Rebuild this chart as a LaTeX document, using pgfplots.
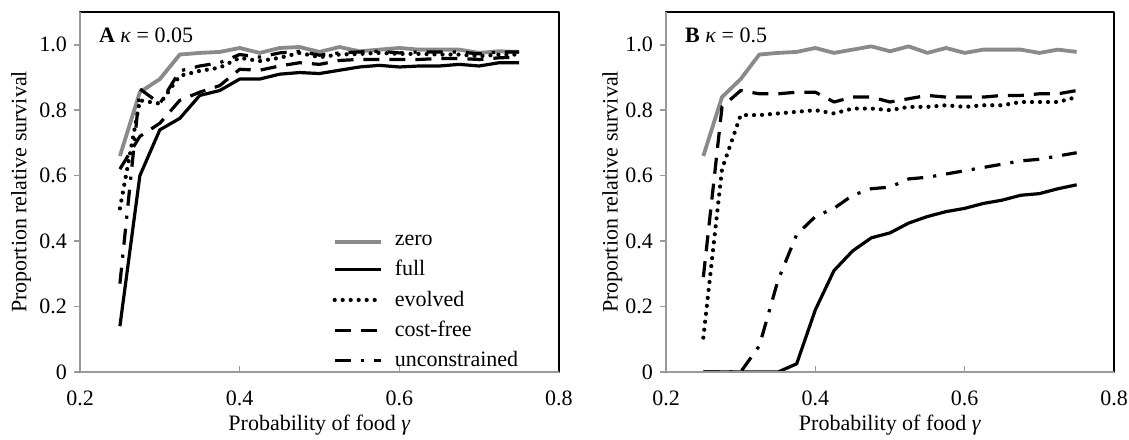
\documentclass[border=0pt]{standalone}
\usepackage{fontspec}
\setmainfont{Liberation Serif}
\usepackage{pgfplots}
\usepackage{pgfplotstable}
\pgfplotsset{compat=1.18}
\definecolor{zgray}{HTML}{8A8A8A}
\definecolor{agray}{HTML}{9A9A9A}

\pgfplotstableread{
x      zero   full   evolved costfree uncon
0.25   0.66   0.14   0.50   0.62   0.27
0.275  0.855  0.60   0.83   0.72   0.865
0.3    0.895  0.74   0.82   0.76   0.82
0.325  0.97   0.775  0.905  0.83   0.92
0.35   0.975  0.845  0.92   0.855  0.935
0.375  0.978  0.86   0.93   0.875  0.945
0.4    0.99   0.895  0.96   0.925  0.97
0.425  0.975  0.895  0.95   0.922  0.962
0.45   0.99   0.91   0.96   0.935  0.975
0.475  0.993  0.915  0.975  0.945  0.98
0.5    0.978  0.912  0.962  0.94   0.968
0.525  0.993  0.922  0.97   0.952  0.975
0.55   0.98   0.932  0.972  0.955  0.978
0.575  0.985  0.937  0.975  0.955  0.98
0.6    0.99   0.932  0.972  0.955  0.975
0.625  0.985  0.935  0.972  0.955  0.978
0.65   0.985  0.935  0.97   0.958  0.978
0.675  0.985  0.94   0.97   0.958  0.978
0.7    0.975  0.935  0.965  0.955  0.972
0.725  0.98   0.945  0.97   0.96   0.978
0.75   0.978  0.945  0.97   0.962  0.978
}\tableA

\pgfplotstableread{
x      zero   full   evolved costfree uncon
0.25   0.66   0      0.105  0.29   0
0.275  0.84   0      0.62   0.81   0
0.3    0.895  0      0.785  0.86   0
0.325  0.97   0      0.785  0.85   0.08
0.35   0.975  0      0.79   0.85   0.28
0.375  0.978  0.025  0.795  0.855  0.42
0.4    0.99   0.19   0.80   0.855  0.475
0.425  0.975  0.31   0.79   0.825  0.50
0.45   0.985  0.37   0.805  0.84   0.54
0.475  0.995  0.41   0.805  0.84   0.56
0.5    0.98   0.425  0.80   0.825  0.565
0.525  0.995  0.455  0.81   0.835  0.59
0.55   0.975  0.475  0.81   0.845  0.595
0.575  0.99   0.49   0.815  0.84   0.605
0.6    0.975  0.50   0.81   0.84   0.615
0.625  0.985  0.515  0.815  0.84   0.625
0.65   0.985  0.525  0.815  0.845  0.635
0.675  0.985  0.54   0.825  0.845  0.645
0.7    0.975  0.545  0.825  0.85   0.65
0.725  0.985  0.56   0.825  0.85   0.66
0.75   0.978  0.572  0.84   0.86   0.67
}\tableB

\pgfplotsset{
  myaxis/.style={
    scale only axis, height=180pt,
    xmin=0.2, xmax=0.8, ymin=0, ymax=1.1,
    xtick={0.2,0.4,0.6,0.8}, xticklabels={0.2,0.4,0.6,0.8},
    ytick={0,0.2,0.4,0.6,0.8,1.0}, yticklabels={0,0.2,0.4,0.6,0.8,1.0},
    xtick pos=bottom, ytick pos=left,
    xtick align=inside, ytick align=outside,
    major tick length=3pt,
    tick style={agray, line width=0.8pt},
    axis line style={black, line width=0.9pt},
    font=\fontsize{11}{13}\selectfont,
    ticklabel style={font=\fontsize{11}{13}\selectfont},
    xticklabel style={yshift=-6pt},
    /pgf/number format/assume math mode=true,
    xlabel={Probability of food \textit{γ}},
    ylabel={Proportion relative survival},
    every axis x label/.style={at={(axis description cs:0.5,-0.147)}, anchor=center},
    after end axis/.code={\draw[agray, line width=1.1pt] (rel axis cs:0,1) -- (rel axis cs:0,0) -- (rel axis cs:1,0);},
    line join=round,
  },
  zero/.style={zgray, line width=1.9pt},
  full/.style={black, line width=1.6pt},
  evolved/.style={black, line width=2.1pt, line cap=round, dash pattern=on 0pt off 4pt},
  costfree/.style={black, line width=1.6pt, dash pattern=on 8pt off 5pt},
  uncon/.style={black, line width=1.6pt, dash pattern=on 8pt off 5pt on 1.6pt off 5pt},
}

\begin{document}
\begin{tikzpicture}
\useasboundingbox (0,0) rectangle (564.5pt,219.5pt);
\begin{axis}[myaxis, width=239.5pt, at={(40pt,33.5pt)}, anchor=south west,
  every axis y label/.style={at={(axis description cs:-0.123,0.5)}, rotate=90, anchor=center},
  legend style={at={(axis description cs:0.514,0.404)}, anchor=north west, draw=none, fill=none,
    font=\fontsize{11}{13}\selectfont, row sep=2pt, column sep=4pt, cells={anchor=west}},
  legend image code/.code={\draw[#1] (0pt,0pt) -- (23pt,0pt);},
  legend cell align=left]
\addplot[zero] table[x=x,y=zero] {\tableA};
\addplot[full] table[x=x,y=full] {\tableA};
\addplot[evolved] table[x=x,y=evolved] {\tableA};
\addplot[costfree] table[x=x,y=costfree] {\tableA};
\addplot[uncon] table[x=x,y=uncon] {\tableA};
\legend{zero,full,evolved,cost-free,unconstrained}
\node[anchor=west, font=\fontsize{11}{13}\selectfont] at (axis description cs:0.025,0.935) {\textbf{A} \textit{κ} = 0.05};
\end{axis}

\begin{axis}[myaxis, width=224pt, at={(333pt,33.5pt)}, anchor=south west,
  every axis y label/.style={at={(axis description cs:-0.12,0.5)}, rotate=90, anchor=center}]
\addplot[zero] table[x=x,y=zero] {\tableB};
\addplot[full] table[x=x,y=full] {\tableB};
\addplot[evolved] table[x=x,y=evolved] {\tableB};
\addplot[costfree] table[x=x,y=costfree] {\tableB};
\addplot[uncon] table[x=x,y=uncon] {\tableB};
\node[anchor=west, font=\fontsize{11}{13}\selectfont] at (axis description cs:0.027,0.935) {\textbf{B} \textit{κ} = 0.5};
\end{axis}
\end{tikzpicture}
\end{document}
